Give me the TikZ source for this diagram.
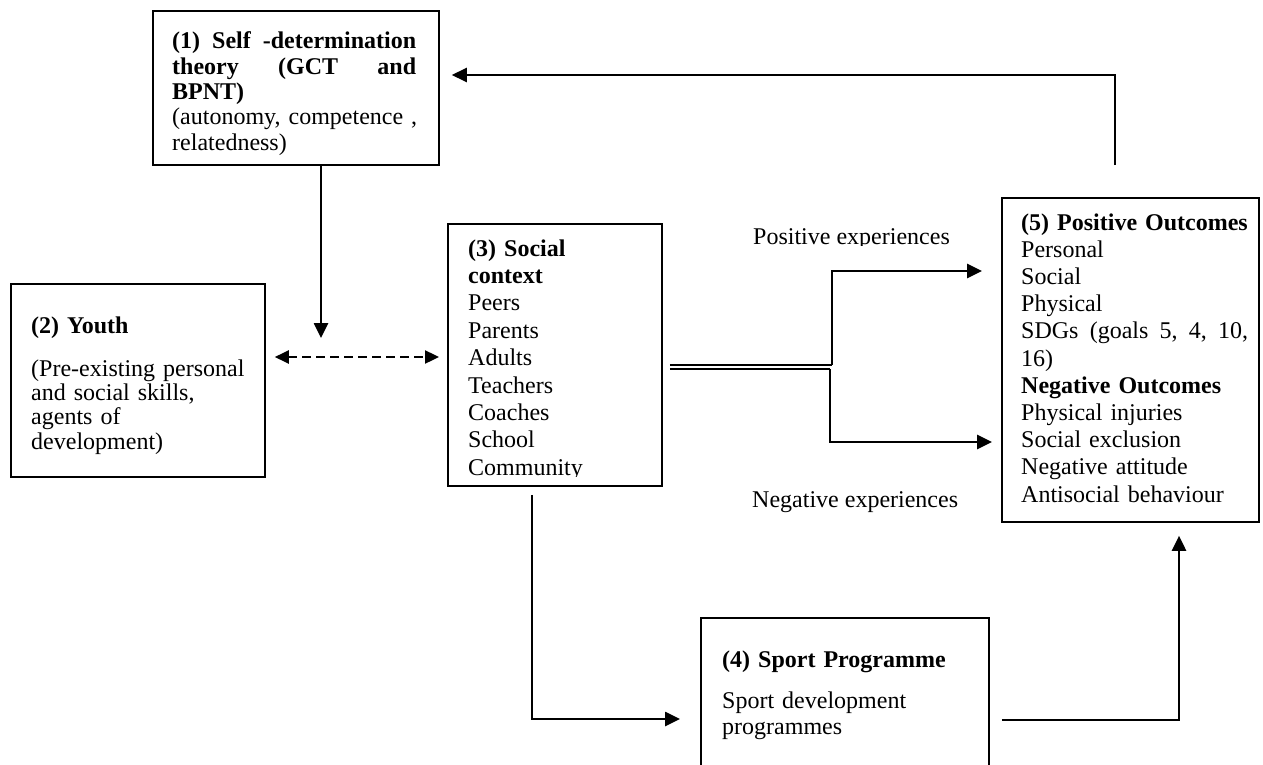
\documentclass[tikz,border=0pt]{standalone}
\usepackage{fontspec}
\setmainfont{Liberation Serif}
\usetikzlibrary{arrows.meta}

\tikzset{
  box/.style={draw, line width=1.8pt, inner sep=0pt, anchor=north west},
  txt/.style={inner sep=0pt, anchor=base west, align=left, text width=#1},
  txt/.default=260pt,
  lbl/.style={inner sep=0pt, anchor=base west, font=\fontsize{24}{27}\selectfont},
  arr/.style={line width=2.6pt, -{Triangle[length=15pt,width=14pt]}},
  darr/.style={line width=2.4pt, dash pattern=on 9pt off 5pt,
    {Triangle[length=14pt,width=13pt]}-{Triangle[length=14pt,width=13pt]}},
  dbl/.style={line width=1.8pt}
}

\begin{document}
\begin{tikzpicture}[x=1pt, y=-1pt]
\useasboundingbox (0,0) rectangle (1263,765);
\clip (0,0) rectangle (1263,765);

% boxes
\node[box, minimum width=286pt, minimum height=154pt] (b1) at (152,10) {};
\node[box, minimum width=254pt, minimum height=193pt] (b2) at (10,283) {};
\node[box, minimum width=214pt, minimum height=262pt] (b3) at (447,223) {};
\node[box, minimum width=288pt, minimum height=170pt] (b4) at (700,617) {};
\node[box, minimum width=257pt, minimum height=324pt] (b5) at (1001,197) {};

% box texts
\node[txt, font=\fontsize{24}{25.3}\selectfont] (t1) at (172,49) {%
  \makebox[244pt]{\bfseries (1)\hfill Self\hfill -determination}\\
  \makebox[244pt]{\bfseries theory\hfill (GCT\hfill and}\\
  \textbf{BPNT)}\\
  (autonomy, competence ,\\
  relatedness)};

\node[txt, font=\fontsize{24}{24.4}\selectfont] (t2) at (31,333) {%
  \textbf{(2) Youth}\\[18.6pt]
  (Pre-existing personal\\
  and social skills,\\
  agents of\\
  development)};

\begin{scope}
  \clip (447,223) rectangle (661,476.5);
  \node[txt, font=\fontsize{24}{27.4}\selectfont] (t3) at (468,256) {%
    \textbf{(3) Social}\\
    \textbf{context}\\
    Peers\\
    Parents\\
    Adults\\
    Teachers\\
    Coaches\\
    School\\
    Community};
\end{scope}

\node[txt, font=\fontsize{24}{26}\selectfont] (t4) at (722,667) {%
  \textbf{(4) Sport Programme}\\[15pt]
  Sport development\\
  programmes};

\node[txt, font=\fontsize{24}{27.2}\selectfont] (t5) at (1021,230) {%
  \textbf{(5) Positive Outcomes}\\
  Personal\\
  Social\\
  Physical\\
  \makebox[227pt]{SDGs\hfill (goals\hfill 5,\hfill 4,\hfill 10,}\\
  16)\\
  \textbf{Negative Outcomes}\\
  Physical injuries\\
  Social exclusion\\
  Negative attitude\\
  Antisocial behaviour};

% experience labels
\begin{scope}
  \clip (700,200) rectangle (1000,245.5);
  \node[lbl] (lpos) at (753,244) {Positive experiences};
\end{scope}
\node[lbl] (lneg) at (752,507) {Negative experiences};

% connector anchors
\coordinate (fb) at (1115,75);
\coordinate (dn) at (321,338);
\coordinate (dash) at (0,357);
\coordinate (ju) at (832,365);
\coordinate (jl) at (830,369);
\coordinate (pu) at (832,271);
\coordinate (pl) at (830,442);
\coordinate (sp) at (532,719);
\coordinate (up) at (1179,720);

% feedback from outcomes to theory
\draw[arr, shorten <=32pt, shorten >=12pt] (b5.north -| fb) |- (b1.east |- fb);
% theory down to the youth/context link
\draw[arr] (b1.south -| dn) -- (dn);
% youth <-> social context
\draw[darr, shorten <=9pt, shorten >=8pt] (b2.east |- dash) -- (b3.west |- dash);
% social context splitting into positive and negative experiences
\draw[dbl, shorten <=7pt] (b3.east |- ju) -- (ju);
\draw[dbl, shorten <=7pt] (b3.east |- jl) -- (jl);
\draw[arr, shorten >=19pt] (ju) |- (b5.west |- pu);
\draw[arr, shorten >=9pt] (jl) |- (b5.west |- pl);
% social context to sport programme
\draw[arr, shorten <=8pt, shorten >=20pt] (b3.south -| sp) |- (b4.west |- sp);
% sport programme to outcomes
\draw[arr, shorten <=12pt, shorten >=13pt] (b4.east |- up) -| (b5.south -| up);
\end{tikzpicture}
\end{document}
